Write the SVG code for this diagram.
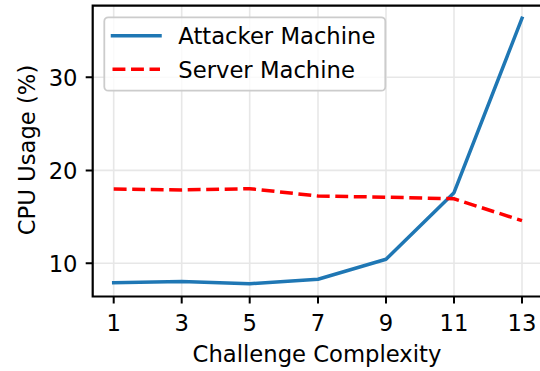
<svg xmlns="http://www.w3.org/2000/svg" width="540" height="371" viewBox="0 0 540 371">
<style>
text{font-family:"DejaVu Sans","Liberation Sans",sans-serif;font-size:22.7px;fill:#000}
.grid{stroke:#b0b0b0;stroke-opacity:0.3;stroke-width:1.6;fill:none}
.spine{stroke:#000;stroke-width:2.2;fill:none;stroke-linecap:square}
.tick{stroke:#000;stroke-width:2;fill:none}
.att{stroke:#1f77b4;stroke-width:3.5;fill:none;stroke-linejoin:round;stroke-linecap:square}
.srv{stroke:#ff0000;stroke-width:3.5;fill:none;stroke-dasharray:12.9 5.6}
</style>
<defs>
<clipPath id="plot"><rect x="92.7" y="5.7" width="447.3" height="290.8"/></clipPath>
</defs>
<g id="grid">
<path class="grid" d="M113.7 5.7V296.5M181.7 5.7V296.5M249.7 5.7V296.5M318 5.7V296.5M386 5.7V296.5M454 5.7V296.5M522 5.7V296.5M92.7 77.3H540M92.7 170.4H540M92.7 263.3H540"/>
</g>
<g id="connectors" clip-path="url(#plot)">
<polyline id="attacker-line" class="att" points="113.7,282.7 181.7,281.6 249.7,283.7 318,279.2 386,259.3 454,192.7 522,18.3"/>
<polyline id="server-line" class="srv" points="113.7,189 181.7,189.9 249.7,188.7 318,196 386,197.2 454,198.8 522,220.7"/>
</g>
<g id="axes">
<path class="spine" d="M92.7 5.7V296.5H541M92.7 5.7H541"/>
<path class="tick" d="M113.7 296.5v7M181.7 296.5v7M249.7 296.5v7M318 296.5v7M386 296.5v7M454 296.5v7M522 296.5v7M92.7 77.3h-7M92.7 170.4h-7M92.7 263.3h-7"/>
</g>
<g id="xticklabels" text-anchor="middle">
<text x="113.7" y="331">1</text>
<text x="181.7" y="331">3</text>
<text x="249.7" y="331">5</text>
<text x="318" y="331">7</text>
<text x="386" y="331">9</text>
<text x="454" y="331">11</text>
<text x="522" y="331">13</text>
</g>
<g id="yticklabels" text-anchor="end">
<text x="77.5" y="85.5">30</text>
<text x="77.5" y="178.6">20</text>
<text x="77.5" y="271.5">10</text>
</g>
<text id="xlabel" x="317" y="361.7" text-anchor="middle">Challenge Complexity</text>
<text id="ylabel" transform="translate(34.5,150) rotate(-90)" text-anchor="middle">CPU Usage (%)</text>
<g id="legend">
<rect x="104.3" y="17.3" width="281" height="73.4" rx="4" ry="4" fill="#ffffff" fill-opacity="0.8" stroke="#cccccc" stroke-width="1.8"/>
<path class="att" d="M112.5 35.7H160" stroke-linecap="butt"/>
<path class="srv" d="M112.5 69.3H160"/>
<text x="178.3" y="43.5">Attacker Machine</text>
<text x="178.3" y="77.5">Server Machine</text>
</g>
</svg>
